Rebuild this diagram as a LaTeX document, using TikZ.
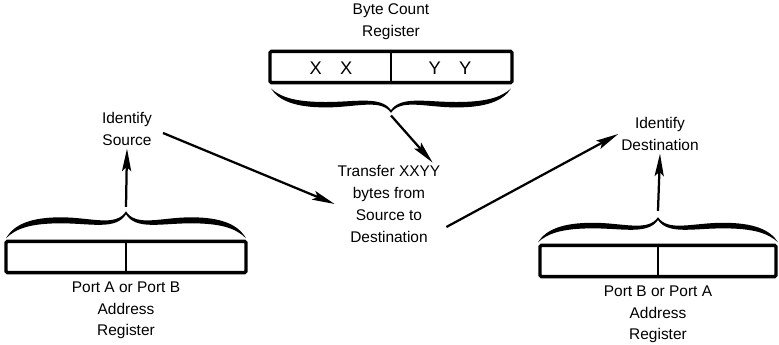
\documentclass[tikz,border=0pt]{standalone}
\usepackage{fontspec}
\setmainfont{Liberation Sans}
\usetikzlibrary{positioning,arrows.meta}
\tikzset{
  curly/.pic={
    \fill (-120,0) .. controls (-112,-14) and (-95,-21) .. (-65,-21)
      .. controls (-35,-21) and (-10,-11) .. (0,-27)
      .. controls (10,-11) and (35,-21) .. (65,-21)
      .. controls (95,-21) and (112,-14) .. (120,0)
      .. controls (110,-10) and (95,-15) .. (65,-15)
      .. controls (35,-15) and (10,-8) .. (0,-24)
      .. controls (-10,-8) and (-35,-15) .. (-65,-15)
      .. controls (-95,-15) and (-110,-10) .. (-120,0) -- cycle;
  }
}
\begin{document}
\begin{tikzpicture}[x=0.025cm,y=-0.025cm]
\tikzstyle{lbl}=[align=center,font=\fontsize{11}{15.5}\selectfont,inner sep=2pt]
\tikzstyle{big}=[lbl,font=\fontsize{13}{15}\selectfont]
\tikzstyle{reg}=[rectangle,draw,line width=2.4pt,rounded corners=1pt,minimum height=0.78cm,inner sep=0pt]
\tikzstyle{sep}=[line width=1.2pt]
\tikzstyle{arr}=[line width=1.6pt,-{Stealth[length=16pt,width=6.5pt,inset=3pt]}]
\useasboundingbox (0,0) rectangle (779,344);
% registers
\node[reg,minimum width=6.05cm] (bc) at (391,67) {};
\node[reg,minimum width=6cm] (lreg) at (126,257) {};
\node[reg,minimum width=5.9cm] (rreg) at (658,261) {};
\draw[sep] (bc.north) -- (bc.south);
\draw[sep] (lreg.north) -- (lreg.south);
\draw[sep] (rreg.north) -- (rreg.south);
\node[big] (xx) at (331,68) {X\hspace{1em}X};
\node[big] (yy) at (450,68) {Y\hspace{1em}Y};
% labels
\node[lbl,above=5pt of bc] (bclbl) {Byte Count\\Register};
\node[lbl,below=3pt of lreg] (llbl) {Port A or Port B\\Address\\Register};
\node[lbl,below=3pt of rreg] (rlbl) {Port B or Port A\\Address\\Register};
\node[lbl] (idsrc) at (127,129) {Identify\\Source};
\node[lbl] (iddst) at (660,134) {Identify\\Destination};
\node[lbl] (xfer) at (389,204) {Transfer XXYY\\bytes from\\Source to\\Destination};
% braces
\pic[yscale=-0.9] at ([yshift=-3pt]bc.south) {curly};
\pic at ([yshift=1pt]lreg.north) {curly};
\pic[yscale=0.93] at ([yshift=1pt]rreg.north) {curly};
\coordinate (bctip) at ([yshift=-0.78cm]bc.south);
\coordinate (ltip) at ([yshift=0.82cm]lreg.north);
\coordinate (rtip) at ([yshift=0.82cm]rreg.north);
% arrows
\draw[arr] (bctip) -- ([xshift=31]xfer.north);
\draw[arr] (ltip) -- (idsrc.south);
\draw[arr] (rtip) -- (iddst.south);
\draw[arr] ([shift={(8,4)}]idsrc.east) -- (xfer.west);
\draw[arr] ([shift={(3,23)}]xfer.east) -- (iddst.west);
\end{tikzpicture}
\end{document}
